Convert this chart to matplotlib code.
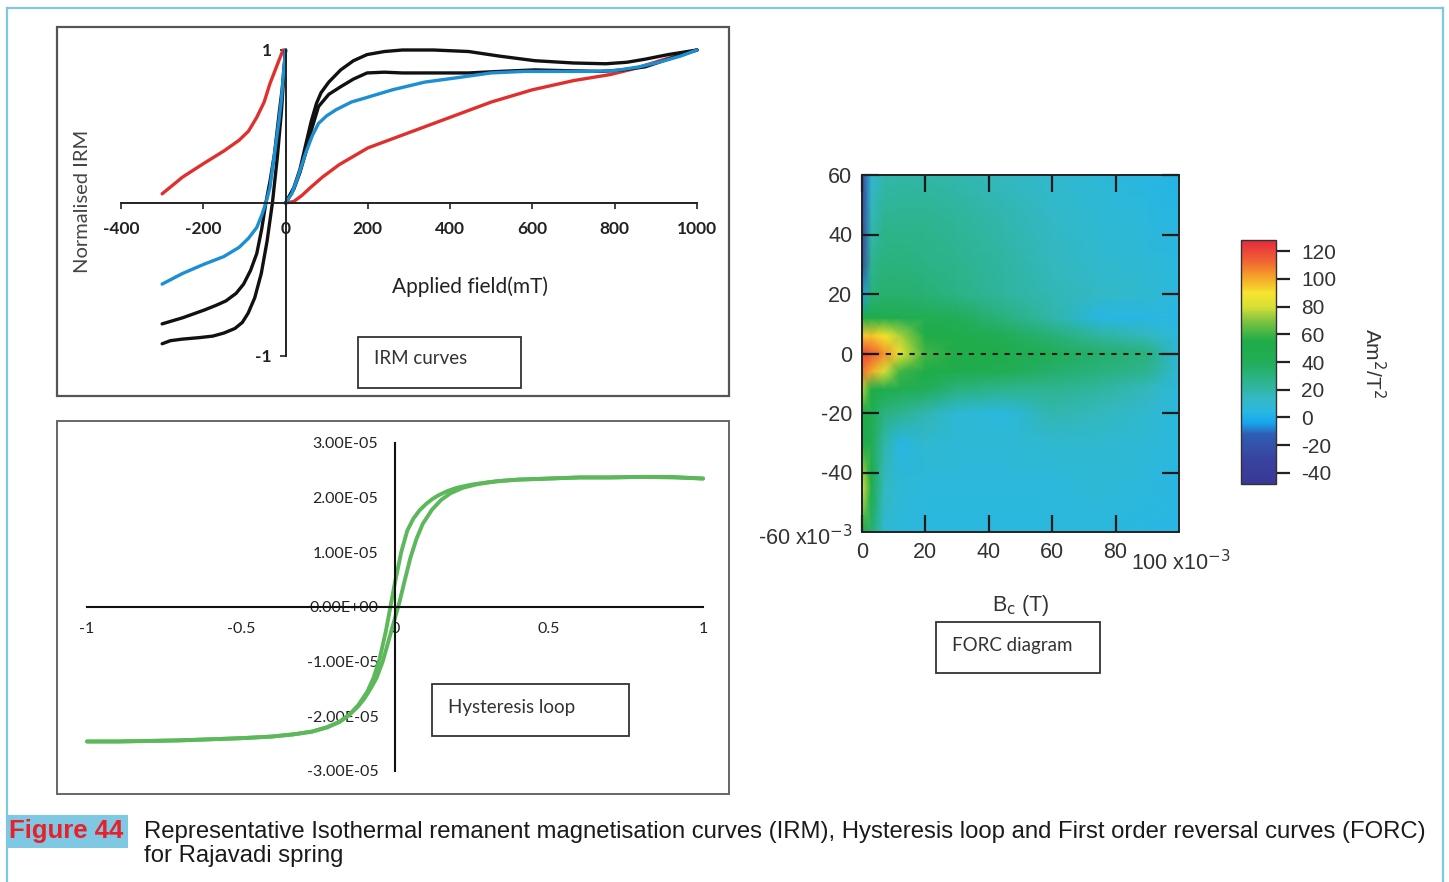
import numpy as np
import matplotlib
matplotlib.use("Agg")
import matplotlib.pyplot as plt
from matplotlib.patches import Rectangle
from matplotlib.lines import Line2D
from matplotlib.colors import LinearSegmentedColormap

plt.rcParams["axes.unicode_minus"] = False

W, H = 1449, 882
fig = plt.figure(figsize=(W / 100, H / 100), dpi=100)
fig.patch.set_facecolor("white")

UI_FONT = "Lato"
FORC_FONT = "Liberation Sans"


def rect(x0, y0, x1, y1):
    return [x0 / W, 1 - y1 / H, (x1 - x0) / W, (y1 - y0) / H]


def fx(x):
    return x / W


def fy(y):
    return 1 - y / H


def frame(x0, y0, x1, y1, color="#555555", lw=1.6):
    fig.add_artist(Rectangle((fx(x0), fy(y1)), (x1 - x0) / W, (y1 - y0) / H,
                             transform=fig.transFigure, fill=False,
                             edgecolor=color, linewidth=lw))


# ---------------- IRM curves (field in mT, normalised IRM) ----------------
red_fwd_x = [0, 20, 40, 60, 90, 130, 200, 280, 350, 430, 500, 600, 700, 790, 850, 910, 960, 1000]
red_fwd_y = [0, 0.01, 0.05, 0.10, 0.17, 0.25, 0.36, 0.44, 0.51, 0.59, 0.66, 0.74, 0.80, 0.84, 0.88, 0.93, 0.97, 1.0]
red_back_x = [-6, -15, -25, -38, -52, -70, -90, -113, -150, -198, -250, -300]
red_back_y = [1.0, 0.94, 0.87, 0.78, 0.66, 0.56, 0.47, 0.41, 0.34, 0.26, 0.17, 0.06]

blue_fwd_x = [0, 15, 30, 48, 65, 80, 100, 123, 160, 198, 260, 338, 420, 499, 580, 660, 740, 800, 860, 907, 960, 1000]
blue_fwd_y = [0, 0.06, 0.17, 0.32, 0.44, 0.52, 0.57, 0.61, 0.66, 0.69, 0.74, 0.79, 0.82, 0.85, 0.86, 0.86, 0.86, 0.865, 0.89, 0.92, 0.96, 1.0]
blue_back_x = [0, -5, -10, -16, -25, -32, -38, -48, -58, -70, -90, -113, -150, -198, -250, -300]
blue_back_y = [1.0, 0.85, 0.68, 0.54, 0.36, 0.22, 0.10, 0.0, -0.08, -0.16, -0.23, -0.29, -0.35, -0.40, -0.46, -0.53]

black1_fwd_x = [0, 20, 35, 48, 62, 75, 86, 105, 134, 165, 198, 240, 284, 360, 445, 520, 606, 700, 778, 830, 874, 930, 1000]
black1_fwd_y = [0, 0.10, 0.22, 0.37, 0.53, 0.65, 0.72, 0.79, 0.87, 0.93, 0.97, 0.99, 1.0, 1.0, 0.99, 0.96, 0.93, 0.915, 0.91, 0.92, 0.94, 0.97, 1.0]
black2_fwd_x = [0, 20, 35, 48, 62, 80, 105, 134, 165, 198, 240, 284, 360, 445, 520, 606, 680, 767, 820, 874, 930, 1000]
black2_fwd_y = [0, 0.09, 0.20, 0.32, 0.47, 0.63, 0.71, 0.76, 0.81, 0.85, 0.855, 0.85, 0.85, 0.85, 0.86, 0.87, 0.865, 0.86, 0.87, 0.89, 0.94, 1.0]
black1_back_x = [0, -8, -15, -27, -38, -48, -58, -70, -85, -102, -120, -145, -170, -198, -250, -300]
black1_back_y = [1.0, 0.75, 0.60, 0.32, 0.14, 0.0, -0.17, -0.33, -0.44, -0.53, -0.59, -0.64, -0.67, -0.70, -0.75, -0.79]
black2_back_x = [0, -10, -20, -32, -45, -59, -75, -91, -105, -123, -150, -177, -210, -252, -280, -300]
black2_back_y = [1.0, 0.60, 0.30, 0.0, -0.25, -0.46, -0.62, -0.72, -0.78, -0.82, -0.85, -0.87, -0.88, -0.89, -0.90, -0.92]

irm_ticks = [-400, -200, 0, 200, 400, 600, 800, 1000]

# ---------------- Hysteresis loop (field in T, moment in 1e-5 units) ----------------
hyst_desc_h = [1.0, 0.9, 0.8, 0.7, 0.6, 0.5, 0.4, 0.35, 0.3, 0.25, 0.2, 0.17, 0.14, 0.12, 0.1,
               0.08, 0.06, 0.04, 0.02, 0.0, -0.015, -0.03, -0.05, -0.07, -0.09, -0.12, -0.15,
               -0.18, -0.22, -0.27, -0.33, -0.4, -0.5, -0.6, -0.7, -0.8, -0.9, -1.0]
hyst_desc_m = [2.35, 2.38, 2.38, 2.37, 2.37, 2.35, 2.33, 2.31, 2.28, 2.24, 2.18, 2.12, 2.04, 1.97, 1.88,
               1.77, 1.62, 1.40, 1.00, 0.45, 0.0, -0.45, -0.95, -1.30, -1.55, -1.80, -1.98,
               -2.10, -2.20, -2.28, -2.33, -2.37, -2.40, -2.42, -2.44, -2.45, -2.46, -2.46]
hyst_asc_h = [-1.0, -0.9, -0.8, -0.7, -0.6, -0.5, -0.4, -0.33, -0.27, -0.22, -0.18, -0.15, -0.12,
              -0.1, -0.08, -0.06, -0.04, -0.02, 0.0, 0.015, 0.03, 0.05, 0.07, 0.09, 0.12, 0.15,
              0.18, 0.22, 0.27, 0.33, 0.4, 0.5, 0.6, 0.7, 0.8, 0.9, 1.0]
hyst_asc_m = [-2.46, -2.46, -2.45, -2.44, -2.42, -2.40, -2.37, -2.33, -2.28, -2.20, -2.10, -1.98, -1.82,
              -1.68, -1.50, -1.30, -1.00, -0.60, -0.20, 0.10, 0.45, 0.90, 1.25, 1.52, 1.78, 1.96,
              2.08, 2.18, 2.25, 2.30, 2.33, 2.35, 2.37, 2.37, 2.38, 2.37, 2.35]
hyst_ytick_vals = [-3e-5, -2e-5, -1e-5, 0, 1e-5, 2e-5, 3e-5]
hyst_ytick_text = ["-3.00E-05", "-2.00E-05", "-1.00E-05", "0.00E+00", "1.00E-05", "2.00E-05", "3.00E-05"]
hyst_xtick_vals = [-1, -0.5, 0, 0.5, 1]
hyst_xtick_text = ["-1", "-0.5", "0", "0.5", "1"]

# ---------------- FORC distribution (Bc, Bu in mT; density Am^2/T^2) ----------------
bc_grid = [0, 3, 7, 12, 20, 30, 45, 60, 75, 90, 100]
bu_grid = [-60, -45, -30, -20, -12, -6, 0, 6, 12, 20, 30, 45, 60]
forc_rows = [
    [50, 35, 10, 6, 5, 5, 5, 5, 5, 4, 3],          # Bu = -60
    [80, 50, 15, 8, 6, 6, 6, 6, 8, 6, 4],          # Bu = -45
    [55, 45, 20, 3, 10, 8, 8, 10, 10, 8, 5],       # Bu = -30
    [55, 45, 30, 25, 18, 8, 5, 18, 15, 10, 5],     # Bu = -20
    [75, 55, 50, 45, 40, 30, 25, 25, 22, 15, 6],   # Bu = -12
    [110, 100, 80, 60, 55, 50, 45, 35, 30, 25, 8],  # Bu = -6
    [120, 115, 105, 85, 60, 55, 50, 42, 35, 30, 8],  # Bu = 0
    [95, 95, 90, 75, 55, 50, 42, 32, 22, 15, 6],   # Bu = 6
    [50, 55, 50, 45, 45, 40, 30, 20, 3, 4, 4],     # Bu = 12
    [-5, 30, 34, 34, 32, 28, 22, 17, 13, 10, 5],   # Bu = 20
    [-25, 25, 30, 30, 28, 26, 21, 15, 11, 8, 5],   # Bu = 30
    [-30, 16, 25, 25, 25, 23, 18, 13, 9, 6, 3],    # Bu = 45
    [-30, 10, 18, 20, 20, 18, 14, 10, 7, 4, 2],    # Bu = 60
]
forc_xticks = [0, 20, 40, 60, 80]
forc_yticks = [-40, -20, 0, 20, 40, 60]
cbar_ticks = [-40, -20, 0, 20, 40, 60, 80, 100, 120]
cbar_min, cbar_max = -48, 128

# colour scale of the FORC density
cmap_stops = [(-48, "#3a3896"), (-30, "#3843a0"), (-12, "#2f5fb5"), (-4, "#17a6ee"),
              (4, "#2ab8e2"), (14, "#34b8c2"), (25, "#2eb490"), (40, "#22ad58"),
              (55, "#1fac48"), (68, "#72c042"), (80, "#d8df35"), (90, "#f6e52d"),
              (102, "#f5a029"), (115, "#ef5a35"), (128, "#e52b3b")]
forc_cmap = LinearSegmentedColormap.from_list(
    "forc", [((v - cbar_min) / (cbar_max - cbar_min), c) for v, c in cmap_stops])

# ---------------- outer border ----------------
border = "#7ec8e3"
for xs, ys in [((7, 7), (8, 882)), ((7, 1443), (8, 8)), ((1443, 1443), (8, 882))]:
    fig.add_artist(Line2D([fx(x) for x in xs], [fy(y) for y in ys],
                          transform=fig.transFigure, color=border, linewidth=1.6))

# ================= Panel 1: IRM =================
frame(57, 27, 729, 396)
ax1 = fig.add_axes(rect(121, 50, 697, 356))
ax1.set_xlim(-400, 1000)
ax1.set_ylim(-1, 1)
ax1.patch.set_alpha(0)
for s in ("top", "right"):
    ax1.spines[s].set_visible(False)
ax1.spines["left"].set_position(("data", 0))
ax1.spines["bottom"].set_position(("data", 0))
for s in ("left", "bottom"):
    ax1.spines[s].set_color("#222222")
    ax1.spines[s].set_linewidth(1.4)

lw = 2.4
series = [
    (red_fwd_x, red_fwd_y, "#e0302e"), (red_back_x, red_back_y, "#e0302e"),
    (black1_fwd_x, black1_fwd_y, "#111111"), (black2_fwd_x, black2_fwd_y, "#111111"),
    (black1_back_x, black1_back_y, "#111111"), (black2_back_x, black2_back_y, "#111111"),
    (blue_fwd_x, blue_fwd_y, "#1b8fd2"), (blue_back_x, blue_back_y, "#1b8fd2"),
]
for xs, ys, c in series:
    ax1.plot(xs, ys, color=c, linewidth=lw, solid_capstyle="round",
             solid_joinstyle="round", clip_on=False)

ax1.set_xticks(irm_ticks)
ax1.set_xticklabels([str(t) for t in irm_ticks])
ax1.set_yticks([-1, 1])
ax1.set_yticklabels(["-1", "1"])
ax1.tick_params(axis="x", direction="out", length=4, width=1.2, pad=9,
                labelsize=12.5, colors="#222222")
ax1.tick_params(axis="y", direction="out", length=4, width=1.2, pad=6,
                labelsize=12.5, colors="#222222")
for lab in ax1.get_xticklabels() + ax1.get_yticklabels():
    lab.set_fontfamily(UI_FONT)
    lab.set_fontweight("bold")

fig.text(fx(82), fy(201), "Normalised IRM", rotation=90, ha="center", va="center",
         fontsize=14.5, color="#444444", family=UI_FONT)
fig.text(fx(470), fy(287), "Applied field(mT)", ha="center", va="center",
         fontsize=15, color="#222222", family=UI_FONT)
frame(358, 337, 521, 388, color="#333333", lw=1.3)
fig.text(fx(374), fy(359), "IRM curves", ha="left", va="center",
         fontsize=13.5, color="#333333", family=UI_FONT)

# ================= Panel 2: Hysteresis loop =================
frame(57, 421, 729, 794, color="#666666", lw=1.4)
ax2 = fig.add_axes(rect(87, 443, 703, 771))
ax2.set_xlim(-1, 1)
ax2.set_ylim(-3e-5, 3e-5)
ax2.patch.set_alpha(0)
for s in ("top", "right"):
    ax2.spines[s].set_visible(False)
ax2.spines["left"].set_position(("data", 0))
ax2.spines["bottom"].set_position(("data", 0))
for s in ("left", "bottom"):
    ax2.spines[s].set_color("#111111")
    ax2.spines[s].set_linewidth(1.5)

green = "#5cb85a"
ax2.plot(hyst_asc_h, np.array(hyst_asc_m) * 1e-5, color=green, linewidth=2.8,
         solid_joinstyle="round", solid_capstyle="round", clip_on=False)
ax2.plot(hyst_desc_h, np.array(hyst_desc_m) * 1e-5, color=green, linewidth=2.8,
         solid_joinstyle="round", solid_capstyle="round", clip_on=False)

ax2.set_xticks(hyst_xtick_vals)
ax2.set_xticklabels(hyst_xtick_text)
ax2.set_yticks(hyst_ytick_vals)
ax2.set_yticklabels(hyst_ytick_text)
ax2.tick_params(axis="x", length=0, pad=11, labelsize=11.5, colors="#222222")
ax2.tick_params(axis="y", length=0, pad=12, labelsize=11.5, colors="#222222")
for lab in ax2.get_xticklabels() + ax2.get_yticklabels():
    lab.set_fontfamily(UI_FONT)

frame(432, 684, 629, 736, color="#333333", lw=1.3)
fig.text(fx(448), fy(708), "Hysteresis loop", ha="left", va="center",
         fontsize=13.5, color="#333333", family=UI_FONT)

# ================= Panel 3: FORC diagram =================
ax3 = fig.add_axes(rect(862, 175, 1179, 532))
Z = np.array(forc_rows, dtype=float)
mesh = ax3.pcolormesh(bc_grid, bu_grid, Z, shading="gouraud", cmap=forc_cmap,
                      vmin=cbar_min, vmax=cbar_max)
ax3.plot([bc_grid[0], bc_grid[-1]], [0, 0], color="#1a1a1a", linewidth=1.5,
         dashes=(2.5, 3.2))
ax3.set_xlim(0, 100)
ax3.set_ylim(-60, 60)
for s in ax3.spines.values():
    s.set_color("#222222")
    s.set_linewidth(1.4)
ax3.set_xticks(forc_xticks)
ax3.set_xticklabels([str(t) for t in forc_xticks])
ax3.set_yticks(forc_yticks)
ax3.set_yticklabels([str(t) for t in forc_yticks])
ax3.tick_params(direction="in", length=12, width=1.6, top=True, right=True,
                color="#1a1a1a", labelsize=15.5, labelcolor="#333333")
ax3.tick_params(axis="x", pad=7)
ax3.tick_params(axis="y", pad=7)
for lab in ax3.get_xticklabels() + ax3.get_yticklabels():
    lab.set_fontfamily(FORC_FONT)

fig.text(fx(853), fy(538), r"-60 x10$^{-3}$", ha="right", va="center",
         fontsize=15.5, color="#333333", family=FORC_FONT)
fig.text(fx(1131), fy(563), r"100 x10$^{-3}$", ha="left", va="center",
         fontsize=15.5, color="#333333", family=FORC_FONT)
fig.text(fx(1021), fy(605), r"B$_\mathrm{c}$ (T)", ha="center", va="center",
         fontsize=15.5, color="#333333", family=FORC_FONT)

frame(936, 622, 1100, 673, color="#333333", lw=1.3)
fig.text(fx(952), fy(646), "FORC diagram", ha="left", va="center",
         fontsize=13.5, color="#333333", family=UI_FONT)

# colour bar
cax = fig.add_axes(rect(1241, 240, 1276, 484))
cb = fig.colorbar(mesh, cax=cax, ticks=cbar_ticks)
cb.outline.set_linewidth(1.0)
cb.outline.set_edgecolor("#333333")
cax.tick_params(direction="out", length=10, width=1.6, color="#222222",
                labelsize=15, labelcolor="#333333", pad=8)
cax.set_yticklabels([str(t) for t in cbar_ticks])
for lab in cax.get_yticklabels():
    lab.set_fontfamily(FORC_FONT)
fig.text(fx(1373), fy(363), r"Am$^2$/T$^2$", rotation=270, ha="center", va="center",
         fontsize=15, color="#333333", family=FORC_FONT)

# ================= Caption =================
fig.add_artist(Rectangle((fx(7), fy(848)), 121 / W, 33 / H, transform=fig.transFigure,
                         facecolor="#7ec8e3", edgecolor="none"))
fig.text(fx(9), fy(831), "Figure 44", ha="left", va="center", fontsize=18.5,
         fontweight="bold", color="#e8202a", family="Liberation Sans")
fig.text(fx(144), fy(832),
         "Representative Isothermal remanent magnetisation curves (IRM), Hysteresis loop "
         "and First order reversal curves (FORC)",
         ha="left", va="center", fontsize=17.2, color="#1a1a1a", family="Liberation Sans")
fig.text(fx(144), fy(856), "for Rajavadi spring", ha="left", va="center",
         fontsize=17.2, color="#1a1a1a", family="Liberation Sans")

fig.savefig("out.png", dpi=100)
